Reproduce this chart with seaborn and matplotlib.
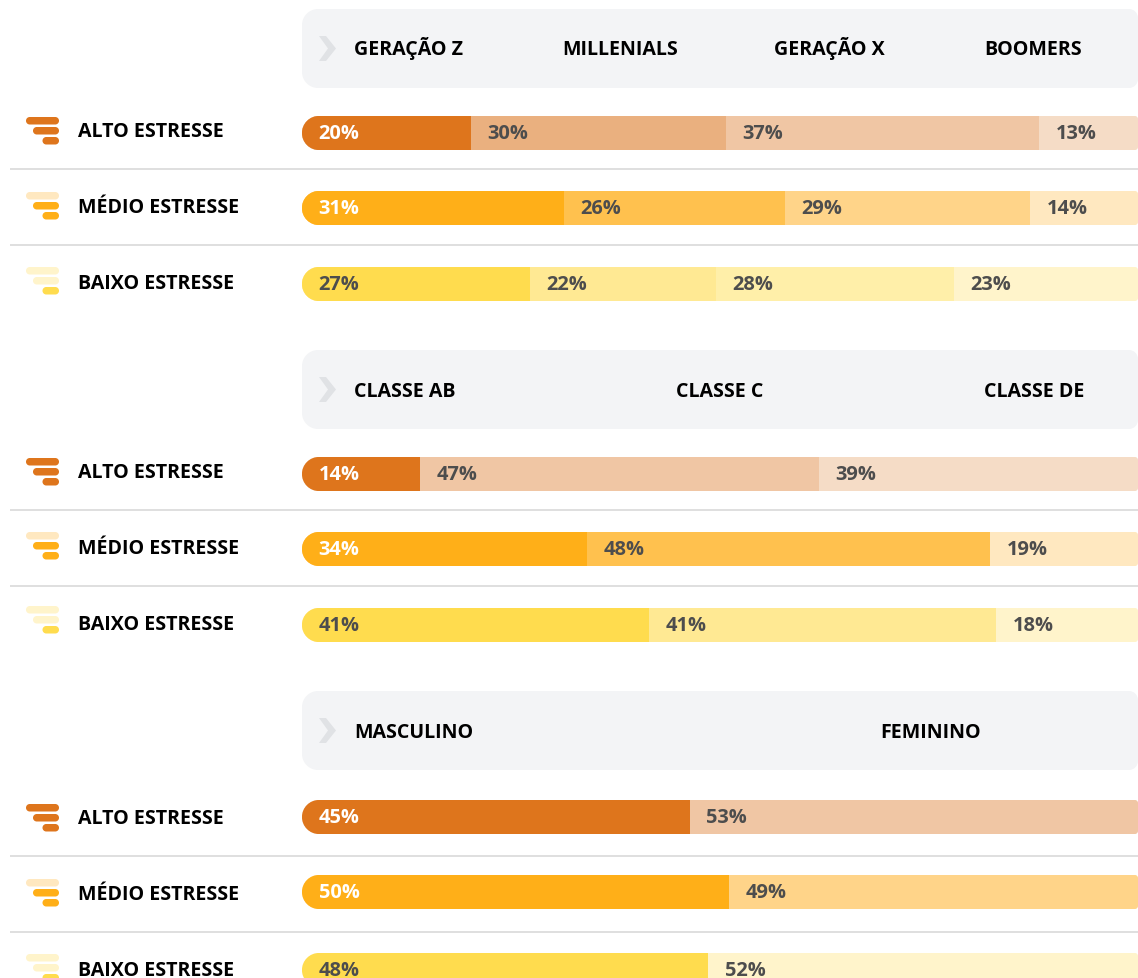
import matplotlib
matplotlib.use("Agg")
import matplotlib.pyplot as plt
import seaborn as sns
from matplotlib.path import Path
from matplotlib.patches import PathPatch, Polygon
from matplotlib.transforms import Affine2D

sns.set_theme(style="white")
plt.rcParams['font.family'] = ['Open Sans', 'DejaVu Sans']

W, H = 1138, 979
levels = ["ALTO ESTRESSE", "MÉDIO ESTRESSE", "BAIXO ESTRESSE"]

generations = ["GERAÇÃO Z", "MILLENIALS", "GERAÇÃO X", "BOOMERS"]
gen_labels = [[20, 30, 37, 13], [31, 26, 29, 14], [27, 22, 28, 23]]
gen_shares = [[20.2, 30.5, 37.5, 11.8], [31.3, 26.5, 29.3, 12.9], [27.3, 22.2, 28.5, 22.0]]

classes = ["CLASSE AB", "CLASSE C", "CLASSE DE"]
class_labels = [[14, 47, 39], [34, 48, 19], [41, 41, 18]]
class_shares = [[14.1, 47.7, 38.2], [34.1, 48.2, 17.7], [41.5, 41.5, 17.0]]

genders = ["MASCULINO", "FEMININO"]
gender_labels = [[45, 53], [50, 49], [48, 52]]
gender_shares = [[46.4, 53.6], [51.1, 48.9], [48.6, 51.4]]

gen_colors = [["#DE751C", "#EAB07F", "#F0C6A4", "#F5DCC6"],
              ["#FFAF18", "#FFC14E", "#FFD489", "#FFE8C0"],
              ["#FFDC4E", "#FFE993", "#FFEFA9", "#FFF4CB"]]
class_colors = [["#DE751C", "#F0C6A4", "#F5DCC6"],
                ["#FFAF18", "#FFC14E", "#FFE8C0"],
                ["#FFDC4E", "#FFE993", "#FFF4CB"]]
gender_colors = [["#DE751C", "#F0C6A4"],
                 ["#FFAF18", "#FFD489"],
                 ["#FFDC4E", "#FFF4CB"]]
icon_colors = [["#DE751C", "#DE751C", "#DE751C"],
               ["#FFE8C0", "#FFAF18", "#FFAF18"],
               ["#FFF4CB", "#FFF4CB", "#FFDC4E"]]

panels = [
    dict(names=generations, labels=gen_labels, shares=gen_shares, colors=gen_colors,
         header_top=9, name_x=[354, 562, 774, 984], name_base=55,
         bar_tops=[116, 191, 267], label_bases=[137, 213, 289],
         icon_tops=[117, 192, 267], rules=[169, 245]),
    dict(names=classes, labels=class_labels, shares=class_shares, colors=class_colors,
         header_top=350, name_x=[354, 676, 984], name_base=397,
         bar_tops=[457, 532, 608], label_bases=[478, 554, 630],
         icon_tops=[458, 532, 606], rules=[510, 586]),
    dict(names=genders, labels=gender_labels, shares=gender_shares, colors=gender_colors,
         header_top=691, name_x=[354, 880], name_base=738,
         bar_tops=[800, 875, 953], label_bases=[824, 900, 976],
         icon_tops=[804, 879, 954], rules=[856, 932]),
]

BAR_L, BAR_R, BAR_H, HEADER_H = 302, 1138, 34, 79
PX_PER_PCT = (BAR_R - BAR_L) / 100

fig = plt.figure(figsize=(W / 100, H / 100), dpi=100, facecolor="white")
ax = fig.add_axes([0, 0, 1, 1])
tx = Affine2D().scale(1, -1).translate(0, H)      # text, image pixel coordinates
px = Affine2D().scale(1, -1).translate(0, H - 1)  # shapes, image pixel coordinates


def rounded(x0, y0, x1, y1, rl, rr):
    k = 0.5523
    verts = [(x0 + rl, y0), (x1 - rr, y0),
             (x1 - rr + k * rr, y0), (x1, y0 + rr - k * rr), (x1, y0 + rr),
             (x1, y1 - rr),
             (x1, y1 - rr + k * rr), (x1 - rr + k * rr, y1), (x1 - rr, y1),
             (x0 + rl, y1),
             (x0 + rl - k * rl, y1), (x0, y1 - rl + k * rl), (x0, y1 - rl),
             (x0, y0 + rl),
             (x0, y0 + rl - k * rl), (x0 + rl - k * rl, y0), (x0 + rl, y0),
             (x0 + rl, y0)]
    c4 = [Path.CURVE4] * 3
    codes = [Path.MOVETO, Path.LINETO] + c4 + [Path.LINETO] + c4 + [Path.LINETO] + c4 + \
            [Path.LINETO] + c4 + [Path.CLOSEPOLY]
    return Path(verts, codes)


def add_shape(path, color):
    ax.add_patch(PathPatch(path, facecolor=color, edgecolor="none", transform=px, clip_on=False))


for p in panels:
    top = p["header_top"]
    add_shape(rounded(BAR_L, top, BAR_R, top + HEADER_H, 16, 9), "#F3F4F6")
    ax.add_patch(Polygon([(319, top + 27), (326, top + 27), (336, top + 39.5),
                          (326, top + 52), (319, top + 52), (328, top + 39.5)],
                         closed=True, facecolor="#E0E2E5", edgecolor="none", transform=px))
    for name, x in zip(p["names"], p["name_x"]):
        ax.text(x, p["name_base"], name, transform=tx, fontsize=14.1, fontweight="bold",
                color="#000000", va="baseline", ha="left")

    for i, level in enumerate(levels):
        t = p["bar_tops"][i]
        center = t + BAR_H / 2
        shares, colors, labels = p["shares"][i], p["colors"][i], p["labels"][i]
        clip = rounded(BAR_L, t, BAR_R, t + BAR_H, 17, 3)

        # stacked bars: longest cumulative total first, shorter ones on top
        for j in range(len(shares) - 1, -1, -1):
            before = len(ax.patches)
            sns.barplot(x=[sum(shares[:j + 1])], y=[center], orient="h", native_scale=True,
                        width=BAR_H, color=colors[j], saturation=1, errorbar=None,
                        linewidth=0, ax=ax)
            for bar in ax.patches[before:]:
                bar.set_clip_path(clip, px)

        for j, (share, lab) in enumerate(zip(shares, labels)):
            left = BAR_L + sum(shares[:j]) * PX_PER_PCT
            col = "#FFFFFF" if (j == 0 and i < 2) else "#4D4D4D"
            ax.text(left + 16.5, t + 23, f"{lab}%", transform=tx, fontsize=14.4,
                    fontweight="bold", color=col, va="baseline", ha="left")

        ax.text(78, p["label_bases"][i], level, transform=tx, fontsize=14.1,
                fontweight="bold", color="#000000", va="baseline", ha="left")

        it = p["icon_tops"][i]
        for k, (x0, c) in enumerate(zip([26, 33, 42.5], icon_colors[i])):
            y0 = it + k * 10
            add_shape(rounded(x0, y0, 59, y0 + 7.5, 3.7, 3.7), c)

    for y in p["rules"]:
        ax.plot([10, BAR_R], [y, y], color="#D9D9D9", lw=1.2, transform=px, solid_capstyle="butt")

ax.set_xlim(-BAR_L / PX_PER_PCT, 100)
ax.set_ylim(H - 1, -1)
ax.axis("off")
fig.savefig("out.png", dpi=100, facecolor="white")
